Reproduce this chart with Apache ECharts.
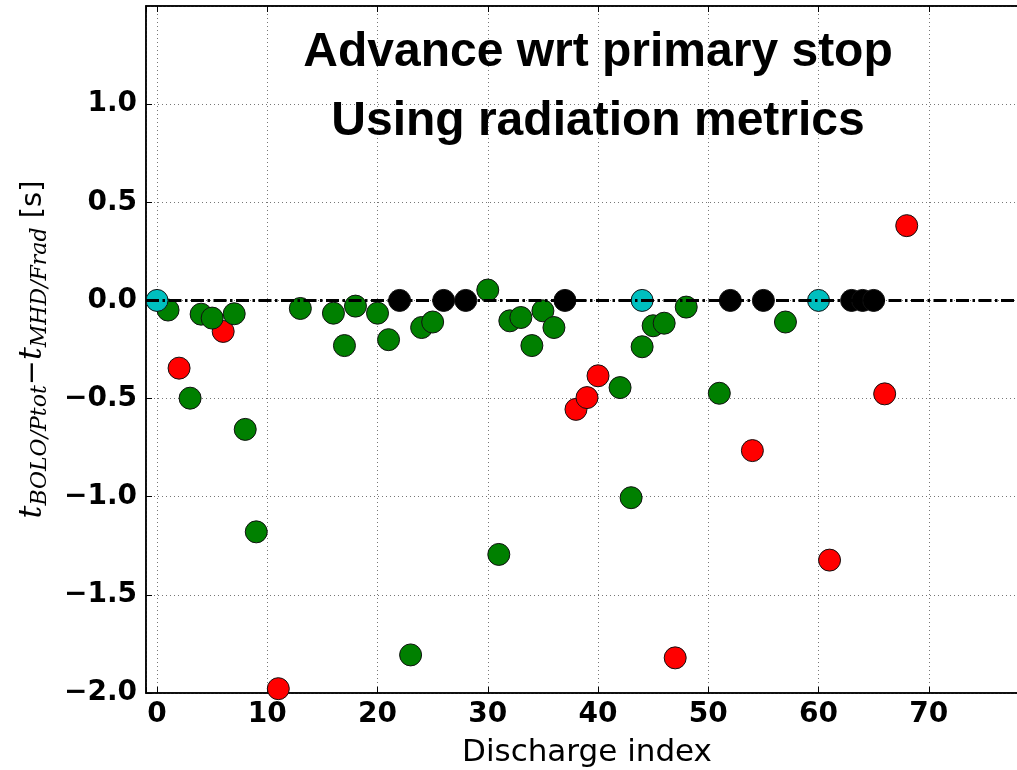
<!DOCTYPE html>
<html>
<head>
<meta charset="utf-8">
<script src="https://cdn.jsdelivr.net/npm/echarts@6/dist/echarts.min.js"></script>
<style>
html,body{margin:0;padding:0;background:#fff;overflow:hidden;}
#chart{width:1017px;height:770px;}
</style>
</head>
<body>
<div id="chart"></div>
<script>
// ---- data ----
const titleLines = ['Advance wrt primary stop', 'Using radiation metrics'];
const xName = 'Discharge index';

const redIdx = [2, 6, 11, 38, 39, 40, 47, 54, 61, 66, 68];
const redVal = [-0.345, -0.158, -1.978, -0.555, -0.495, -0.384, -1.821, -0.765, -1.323, -0.476, 0.381];

const greenIdx = [1, 3, 4, 5, 7, 8, 9, 13, 16, 17, 18, 20, 21, 23, 24, 25, 30, 31, 32, 33, 34, 35, 36, 42, 43, 44, 45, 46, 48, 51, 57];
const greenVal = [-0.049, -0.498, -0.07, -0.09, -0.068, -0.657, -1.179, -0.041, -0.065, -0.23, -0.029, -0.065, -0.2, -1.806, -0.138, -0.11, 0.053, -1.294, -0.104, -0.087, -0.23, -0.053, -0.138, -0.444, -1.005, -0.236, -0.129, -0.116, -0.034, -0.473, -0.11];

const cyanIdx = [0, 44, 60];
const cyanVal = [0, 0, 0];

const blackIdx = [22, 26, 28, 37, 52, 55, 63, 64, 65];
const blackVal = [0, 0, 0, 0, 0, 0, 0, 0, 0];

const refLineY = 0;

// ---- build ----
function pairs(xs, ys) { return xs.map((x, i) => [x, ys[i]]); }

const tickFont = { fontFamily: 'DejaVu Sans', fontWeight: 'bold', fontSize: 28, color: '#000' };
const gridLine = { show: true, lineStyle: { color: '#777', width: 1, type: [1, 3] } };

function scatter(name, data, color) {
  return {
    name: name, type: 'scatter', data: data, symbol: 'circle', symbolSize: 22,
    itemStyle: { color: color, borderColor: '#111', borderWidth: 1, opacity: 1 },
    emphasis: { disabled: true }
  };
}

const chart = echarts.init(document.getElementById('chart'), null, { renderer: 'canvas' });
chart.setOption({
  animation: false,
  backgroundColor: '#fff',
  title: {
    text: titleLines.join('\n'),
    left: 598, top: 18, textAlign: 'center', padding: 0,
    textStyle: { fontFamily: 'Liberation Sans', fontWeight: 'bold', fontSize: 48, lineHeight: 69, color: '#000' }
  },
  grid: { left: 146, width: 882, top: 6, height: 687, show: true, borderColor: '#000', borderWidth: 1.5,
    containLabel: false, outerBoundsMode: 'none' },
  xAxis: [{
    type: 'value', min: -1, max: 79, splitNumber: 8, minInterval: 10, maxInterval: 10,
    position: 'bottom',
    name: xName, nameLocation: 'middle', nameGap: 44,
    nameTextStyle: { fontFamily: 'DejaVu Sans', fontSize: 31, color: '#000' },
    axisLine: { show: true, onZero: false, lineStyle: { color: '#000', width: 1.5 } },
    axisTick: { show: true, inside: true, length: 6, lineStyle: { color: '#000', width: 1 } },
    axisLabel: Object.assign({ margin: 8, showMinLabel: true, showMaxLabel: true,
      formatter: v => (Math.abs(v % 10) < 1e-9 ? String(v) : '') }, tickFont),
    splitLine: gridLine
  }, {
    type: 'value', min: -1, max: 79, splitNumber: 8, minInterval: 10, maxInterval: 10,
    position: 'top',
    axisLine: { show: true, onZero: false, lineStyle: { color: '#000', width: 1.5 } },
    axisTick: { show: true, inside: true, length: 6, lineStyle: { color: '#000', width: 1 } },
    axisLabel: { show: false },
    splitLine: { show: false }
  }],
  yAxis: {
    type: 'value', min: -2, max: 1.5, interval: 0.5,
    name: '{t|t}{s|BOLO/Ptot}{m|−}{t|t}{s|MHD/Frad}{u| [s]}',
    nameLocation: 'middle', nameRotate: 90, nameGap: 95,
    nameTextStyle: {
      color: '#000',
      rich: {
        t: { fontFamily: 'DejaVu Serif', fontStyle: 'italic', fontSize: 32, lineHeight: 36, color: '#000' },
        s: { fontFamily: 'DejaVu Serif', fontStyle: 'italic', fontSize: 22, lineHeight: 18, verticalAlign: 'bottom', color: '#000' },
        m: { fontFamily: 'DejaVu Serif', fontSize: 30, lineHeight: 36, color: '#000' },
        u: { fontFamily: 'DejaVu Sans', fontSize: 29, lineHeight: 36, color: '#000' }
      }
    },
    axisLine: { show: true, onZero: false, lineStyle: { color: '#000', width: 1.5 } },
    axisTick: { show: true, inside: true, length: 6, lineStyle: { color: '#000', width: 1 } },
    axisLabel: Object.assign({ margin: 9, showMaxLabel: false,
      formatter: v => (v < 0 ? '\u2212' : '') + Math.abs(v).toFixed(1) }, tickFont),
    splitLine: gridLine
  },
  series: [
    Object.assign(scatter('red', pairs(redIdx, redVal), '#ff0000'), {
      markLine: {
        silent: true, symbol: 'none', label: { show: false },
        lineStyle: { color: '#000', width: 3, type: [13, 3.5, 2.5, 3.5] },
        data: [{ yAxis: refLineY }]
      }
    }),
    scatter('green', pairs(greenIdx, greenVal), '#008000'),
    scatter('cyan', pairs(cyanIdx, cyanVal), '#00bfbf'),
    scatter('black', pairs(blackIdx, blackVal), '#000000')
  ]
});
</script>
</body>
</html>
